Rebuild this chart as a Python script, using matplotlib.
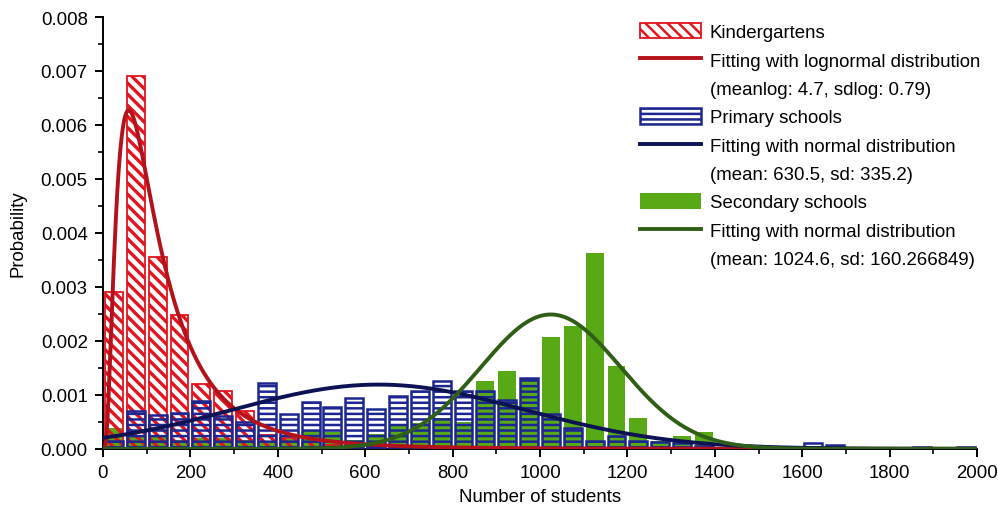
import numpy as np
import matplotlib
matplotlib.use('Agg')
import matplotlib.pyplot as plt

plt.rcParams['font.family'] = ['Liberation Sans', 'DejaVu Sans']

# histogram bins of 50 students, 0-2000
bin_width = 50
bin_left = np.arange(0, 2000, bin_width)

kindergartens = [0.0029, 0.0069, 0.00355, 0.00248, 0.0012, 0.00108, 0.0007, 0.00026, 0.0002, 0.00012,
                 0.00008, 0.00005, 0.00004, 0.00003, 0.00003, 0.00003, 0.0, 0.00003, 0.00003, 0.0,
                 0.0, 0.0, 0.0, 0.00003, 0.0, 0.0, 0.0, 0.0, 0.0, 0.0,
                 0.0, 0.0, 0.0, 0.0, 0.0, 0.0, 0.0, 0.0, 0.0, 0.0]
primary = [0.00015, 0.0007, 0.00062, 0.00066, 0.00088, 0.0006, 0.0005, 0.00122, 0.00064, 0.00087,
           0.00077, 0.00094, 0.00074, 0.00097, 0.00107, 0.00125, 0.00108, 0.00108, 0.00091, 0.00132,
           0.00064, 0.00038, 0.00014, 0.00024, 0.00014, 0.00012, 0.0001, 0.00006, 0.00002, 0.00002,
           0.00001, 0.00001, 0.0001, 0.00007, 0.00001, 0.0, 0.00001, 0.00003, 0.0, 0.00003]
secondary = [0.00038, 0.00025, 0.00025, 0.00017, 0.0002, 0.0002, 0.00017, 0.00013, 0.00018, 0.00035,
             0.00031, 0.00016, 0.00028, 0.00045, 0.00047, 0.00057, 0.0005, 0.00125, 0.00145, 0.0013,
             0.00208, 0.00228, 0.00362, 0.00153, 0.00057, 0.00014, 0.00023, 0.00031, 0.00004, 0.00002,
             0.00002, 0.00002, 0.00003, 0.00002, 0.00003, 0.00001, 0.00001, 0.00001, 0.00001, 0.00001]

# fitted distributions (parameters from the legend)
kg_meanlog, kg_sdlog = 4.7, 0.79
ps_mean, ps_sd = 630.5, 335.2
ss_mean, ss_sd = 1024.6, 160.266849

red_bar = '#e3141f'
red_line = '#b3121a'
blue_bar = '#1c2690'
blue_line = '#0c1254'
green_bar = '#57a916'
green_line = '#2f5f16'


def lognormal_pdf(x, mu, s):
    x = np.asarray(x, dtype=float)
    out = np.zeros_like(x)
    pos = x > 0
    out[pos] = np.exp(-(np.log(x[pos]) - mu) ** 2 / (2 * s ** 2)) / (x[pos] * s * np.sqrt(2 * np.pi))
    return out


def normal_pdf(x, mu, s):
    return np.exp(-(x - mu) ** 2 / (2 * s ** 2)) / (s * np.sqrt(2 * np.pi))


fig = plt.figure(figsize=(9.98, 5.06), dpi=100)
ax = fig.add_axes([0.1032, 0.111, 0.8758, 0.8534])

centers = bin_left + bin_width / 2
w = bin_width * 0.82

sec = ax.bar(centers, secondary, width=w, color=green_bar, edgecolor='none', zorder=1)

plt.rcParams['hatch.linewidth'] = 2.4
kg = ax.bar(centers, kindergartens, width=w, facecolor='none', edgecolor=red_bar,
            hatch='\\\\\\', linewidth=1.3, zorder=2)

plt.rcParams['hatch.linewidth'] = 1.8
ps = ax.bar(centers, primary, width=w, facecolor='none', edgecolor=blue_bar,
            hatch='---', linewidth=1.8, zorder=3)

xs = np.linspace(0, 2000, 801)
kg_fit, = ax.plot(xs, lognormal_pdf(xs, kg_meanlog, kg_sdlog), color=red_line, lw=2.8, zorder=4)
ps_fit, = ax.plot(xs, normal_pdf(xs, ps_mean, ps_sd), color=blue_line, lw=2.8, zorder=5)
ss_fit, = ax.plot(xs, normal_pdf(xs, ss_mean, ss_sd), color=green_line, lw=2.8, zorder=6)

ax.set_xlim(0, 2000)
ax.set_ylim(0, 0.008)
ax.set_xticks(np.arange(0, 2001, 200))
ax.set_xticks(np.arange(100, 2000, 200), minor=True)
ax.set_yticks(np.arange(0, 0.0081, 0.001))
ax.set_yticks(np.arange(0.0005, 0.008, 0.001), minor=True)
ax.set_yticklabels([f'{v:.3f}' for v in np.arange(0, 0.0081, 0.001)])

for side in ['top', 'right']:
    ax.spines[side].set_visible(False)
for side in ['left', 'bottom']:
    ax.spines[side].set_linewidth(1.4)
ax.tick_params(which='major', direction='out', length=6, width=1.4, labelsize=13.4, pad=5)
ax.tick_params(which='minor', direction='out', length=3.5, width=1.2)

ax.set_xlabel('Number of students', fontsize=13.4, labelpad=5)
ax.set_ylabel('Probability', fontsize=13.4, labelpad=10)

blank = plt.Line2D([], [], linestyle='none')
handles = [kg, kg_fit, blank, ps, ps_fit, blank, sec, ss_fit, blank]
labels = ['Kindergartens',
          'Fitting with lognormal distribution', '(meanlog: 4.7, sdlog: 0.79)',
          'Primary schools',
          'Fitting with normal distribution', '(mean: 630.5, sd: 335.2)',
          'Secondary schools',
          'Fitting with normal distribution', '(mean: 1024.6, sd: 160.266849)']
ax.legend(handles, labels, loc='upper left', bbox_to_anchor=(640 / 998, 1 - 24 / 506),
          bbox_transform=fig.transFigure, frameon=False, fontsize=13.4,
          handlelength=3.3, handleheight=0.9, handletextpad=0.45,
          labelspacing=0.55, borderpad=0, borderaxespad=0)

fig.savefig('out.png', dpi=100)
